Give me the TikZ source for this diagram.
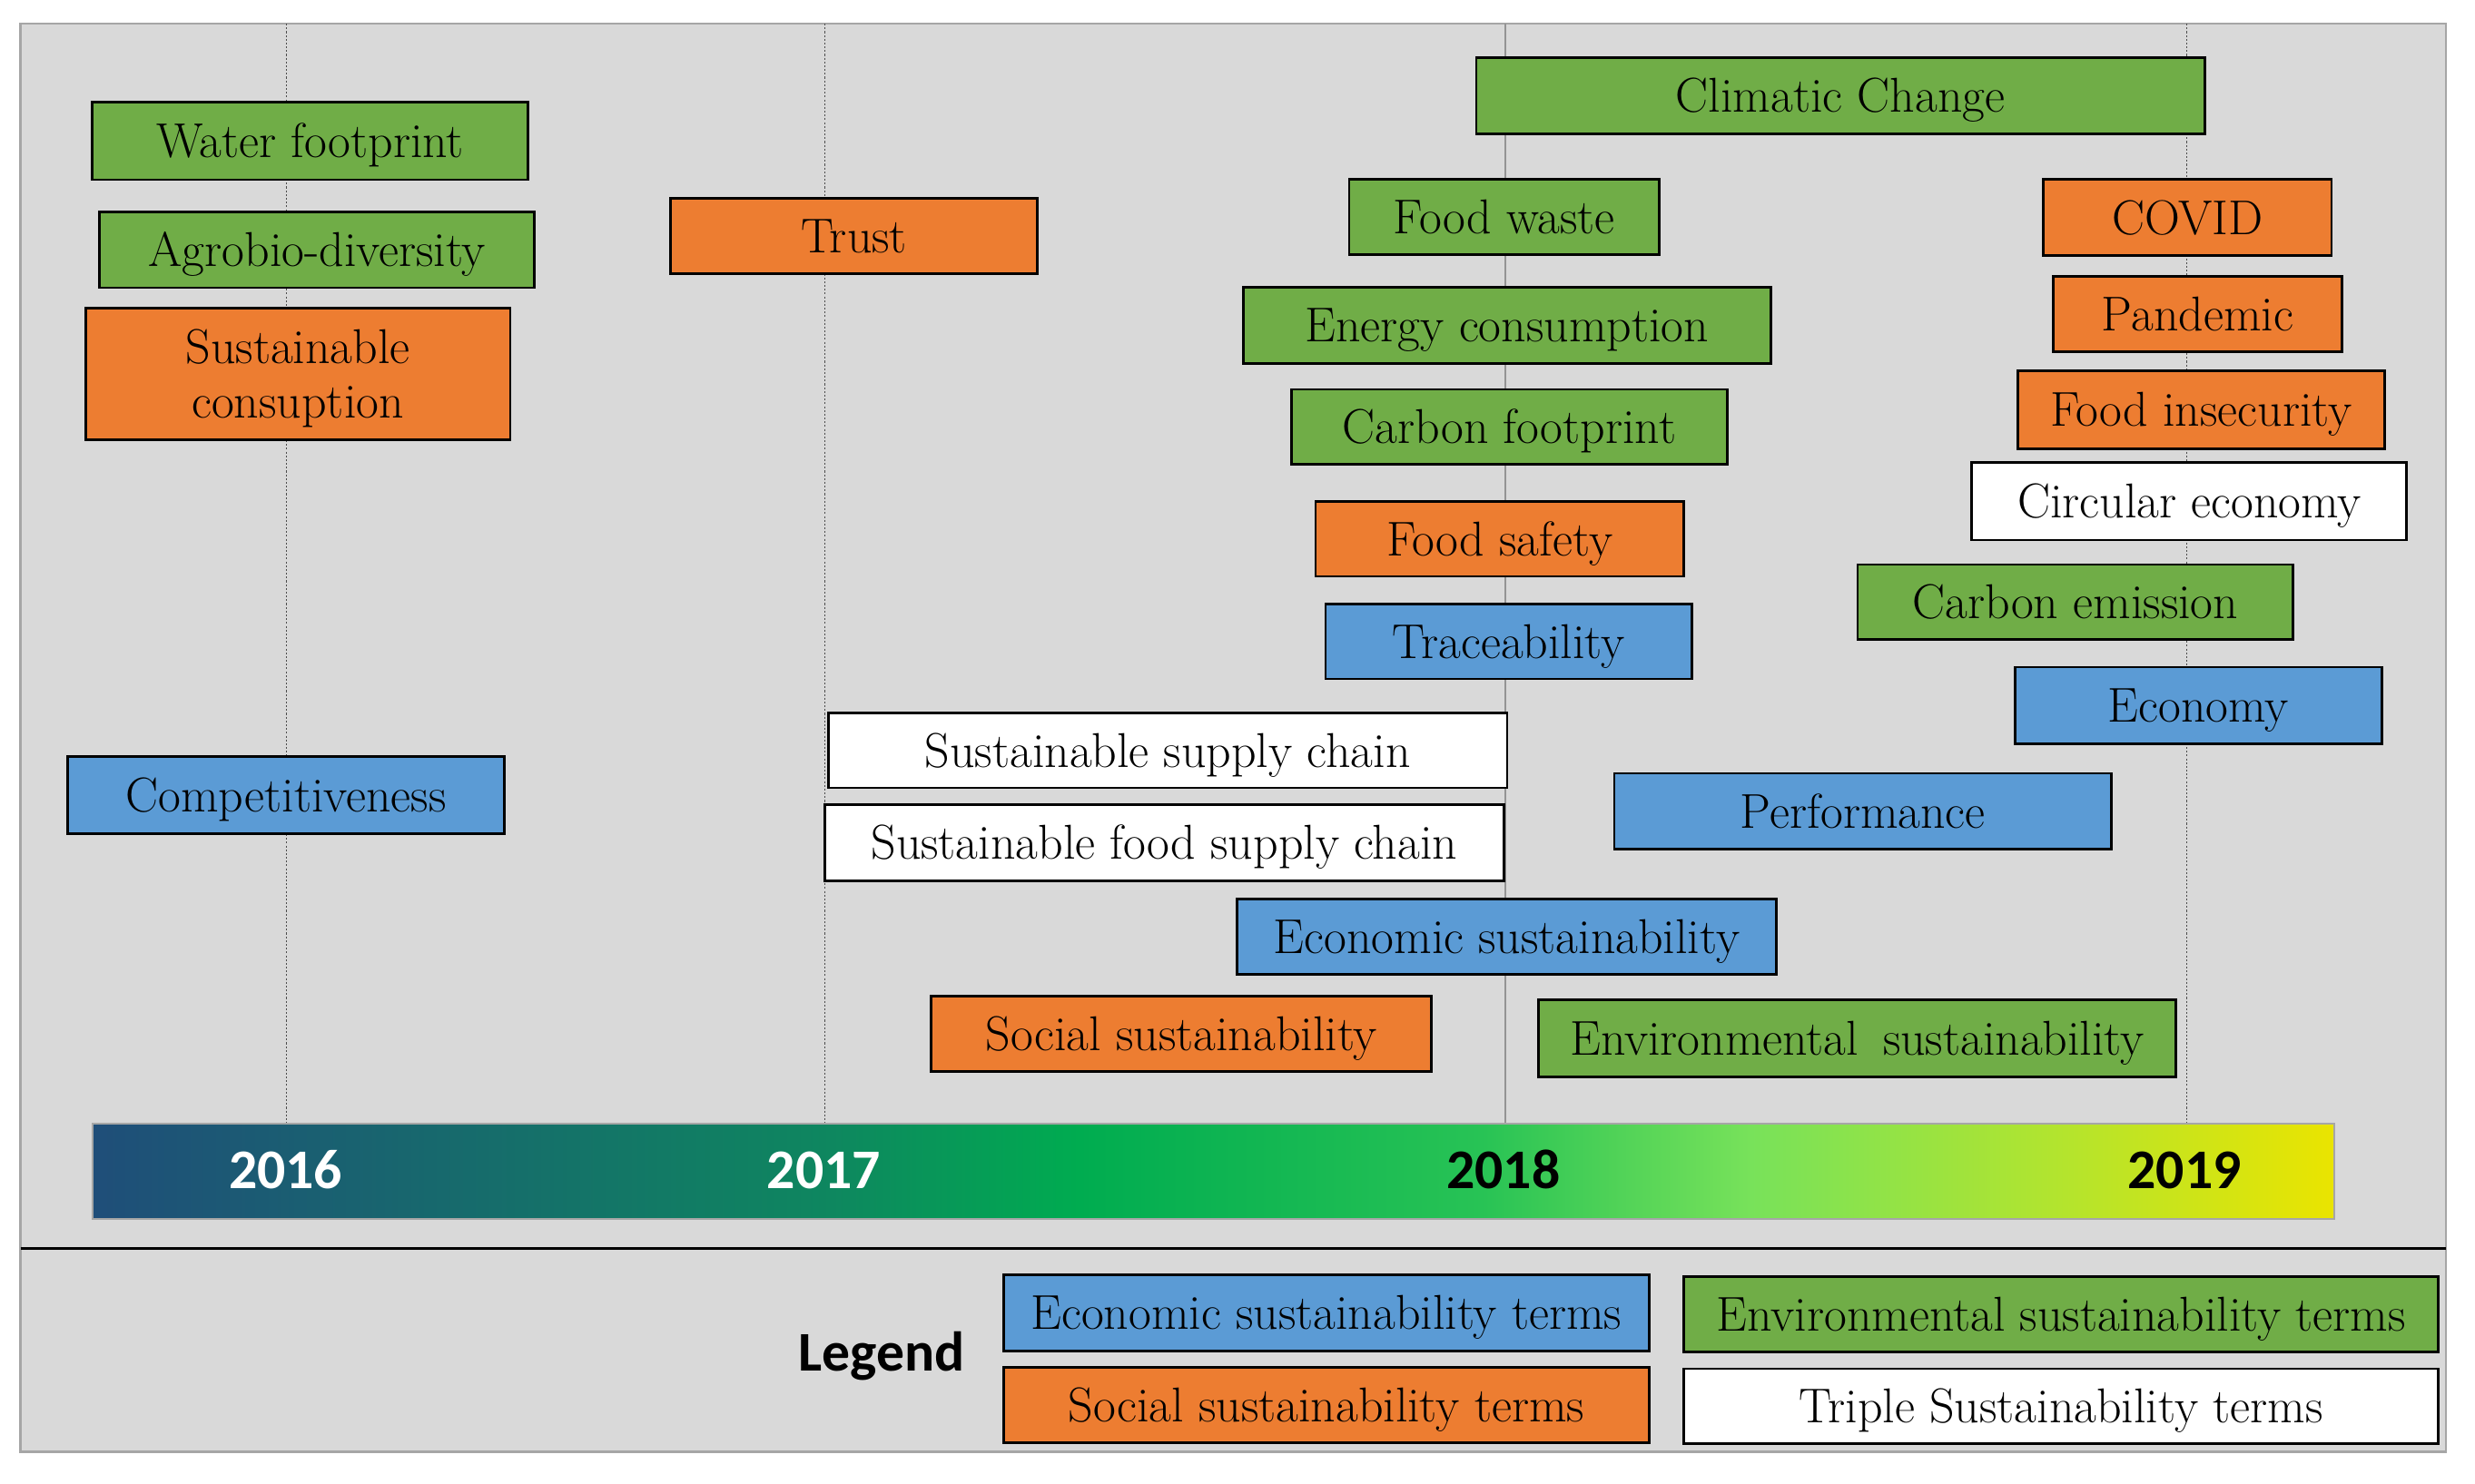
\documentclass[tikz,border=0pt]{standalone}
\usepackage{fontspec}
\newfontfamily\carlito{Carlito}
\definecolor{tgreen}{HTML}{70AD47}
\definecolor{torange}{HTML}{ED7D31}
\definecolor{tblue}{HTML}{5B9BD5}
\definecolor{bgray}{HTML}{D9D9D9}
\definecolor{framegray}{HTML}{A6A6A6}
\definecolor{bc0}{RGB}{31,78,121}
\definecolor{bc1}{RGB}{14,135,95}
\definecolor{bc2}{RGB}{0,172,80}
\definecolor{bc3}{RGB}{40,195,85}
\definecolor{bc4}{RGB}{120,226,90}
\definecolor{bc5}{RGB}{180,228,45}
\definecolor{bc6}{RGB}{234,228,0}
\pgfdeclarehorizontalshading{timebar}{100bp}{color(0bp)=(bc0); color(25bp)=(bc0); color(41.5bp)=(bc1); color(47bp)=(bc2); color(56bp)=(bc3); color(62bp)=(bc4); color(69bp)=(bc5); color(75bp)=(bc6); color(100bp)=(bc6)}
\newcommand\termfont{\fontsize{31}{34.5}\selectfont}
\newcommand\yearfnt{\carlito\bfseries\fontsize{35.5}{40}\selectfont}
\tikzset{
  termbase/.style={draw=black, line width=1.6pt, inner sep=0pt, font=\termfont},
  oneline/.style={text height=21.2pt, text depth=0pt},
  gterm/.style={termbase, oneline, fill=tgreen},
  oterm/.style={termbase, oneline, fill=torange},
  bterm/.style={termbase, oneline, fill=tblue},
  wterm/.style={termbase, oneline, fill=white},
  dotline/.style={draw=black!70, line width=0.6pt, dash pattern=on 1.2pt off 1.2pt},
  solidline/.style={draw=black!42, line width=1pt},
  yearlbl/.style={font=\yearfnt, anchor=base, inner sep=0pt},
}
\begin{document}
\begin{tikzpicture}[x=1pt,y=-1pt]
\useasboundingbox (0,0) rectangle (1568,940);
\fill[white] (0,0) rectangle (1568,940);
% frame
\draw[draw=framegray, line width=1.5pt, fill=bgray] (13,15) rectangle (1549.5,920);
\draw[black, line width=1.8pt] (13,791) -- (1549.5,791);

% timeline bar
\node[shade, shading=timebar, draw=black!35, line width=1.2pt, minimum width=1420pt, minimum height=60pt, inner sep=0pt] (bar) at (768.75,742.25) {};

% year lines
\coordinate (l16) at (181.5,15);
\coordinate (l17) at (522.5,15);
\coordinate (l18) at (953.5,15);
\coordinate (l19) at (1385.3,15);
\draw[dotline] (l16) -- (l16 |- bar.north);
\draw[dotline] (l17) -- (l17 |- bar.north);
\draw[solidline] (l18) -- (l18 |- bar.north);
\draw[dotline] (l19) -- (l19 |- bar.north);

% year labels
\node[yearlbl, text=white] (y16) at (181,753.5) {2016};
\node[yearlbl, text=white] (y17) at (522,753.5) {2017};
\node[yearlbl, text=black] (y18) at (952.5,753.5) {2018};
\node[yearlbl, text=black] (y19) at (1384,753.5) {2019};

% 2016
\node[gterm, minimum width=276pt, minimum height=49pt] (wf) at (196.5,89.4) {Water footprint};
\node[gterm, minimum width=275.5pt, minimum height=48pt] (ab) at (200.9,158.3) {Agrobio-diversity};
\node[termbase, fill=torange, align=center, text depth=0pt, minimum width=269pt, minimum height=83pt] (sc) at (188.7,237) {Sustainable\\consuption};
\node[bterm, minimum width=276.5pt, minimum height=49pt] (comp) at (181.1,503.9) {Competitiveness};

% 2017
\node[oterm, minimum width=232.5pt, minimum height=48pt] (trust) at (541,149.5) {Trust};
\node[wterm, minimum width=430pt, minimum height=47.5pt] (ssc) at (739.8,475.5) {Sustainable supply chain};
\node[wterm, minimum width=430pt, minimum height=48pt] (sfsc) at (737.6,534.1) {Sustainable food supply chain};
\node[oterm, minimum width=317pt, minimum height=48pt] (ss) at (748.5,655.2) {Social sustainability};

% 2018
\node[gterm, minimum width=461.5pt, minimum height=48.5pt] (cc) at (1166,60.7) {Climatic Change};
\node[gterm, minimum width=196.5pt, minimum height=47.5pt] (fw) at (953,137.5) {Food waste};
\node[gterm, minimum width=334pt, minimum height=48pt] (ec) at (954.7,206.2) {Energy consumption};
\node[gterm, minimum width=276pt, minimum height=47.5pt] (cf) at (956.2,270.5) {Carbon footprint};
\node[oterm, minimum width=233pt, minimum height=47.5pt] (fs) at (950,341.5) {Food safety};
\node[bterm, minimum width=232pt, minimum height=47.5pt] (tr) at (955.8,406.5) {Traceability};
\node[bterm, minimum width=341.5pt, minimum height=47.5pt] (es) at (954.5,593.5) {Economic sustainability};
\node[gterm, minimum width=403.5pt, minimum height=48.5pt] (ens) at (1176.5,658) {Environmental\hspace{0.5em}sustainability};
\node[bterm, minimum width=315pt, minimum height=48pt] (perf) at (1180.2,514.1) {Performance};

% 2019
\node[oterm, minimum width=182.5pt, minimum height=48pt] (covid) at (1385.9,137.8) {COVID};
\node[oterm, minimum width=183pt, minimum height=47.5pt] (pand) at (1392.2,199) {Pandemic};
\node[oterm, minimum width=232.5pt, minimum height=49.5pt] (fi) at (1394.4,259.5) {Food insecurity};
\node[wterm, minimum width=275.5pt, minimum height=49pt] (ce) at (1387,317.7) {Circular economy};
\node[gterm, minimum width=276pt, minimum height=47.5pt] (cem) at (1314.8,381.5) {Carbon emission};
\node[bterm, minimum width=232pt, minimum height=48.5pt] (eco) at (1392.8,447) {Economy};

% legend
\node[font=\yearfnt, anchor=base, inner sep=0pt] (leg) at (558.5,869) {Legend};
\node[bterm, minimum width=409pt, minimum height=48.5pt] (le1) at (840.3,832) {Economic sustainability terms};
\node[oterm, minimum width=409pt, minimum height=47.5pt] (le2) at (840.3,890.5) {Social sustainability terms};
\node[gterm, minimum width=478pt, minimum height=48pt] (le3) at (1305.8,832.9) {Environmental sustainability terms};
\node[wterm, minimum width=478pt, minimum height=47.5pt] (le4) at (1305.8,891.2) {Triple Sustainability terms};
\end{tikzpicture}
\end{document}
